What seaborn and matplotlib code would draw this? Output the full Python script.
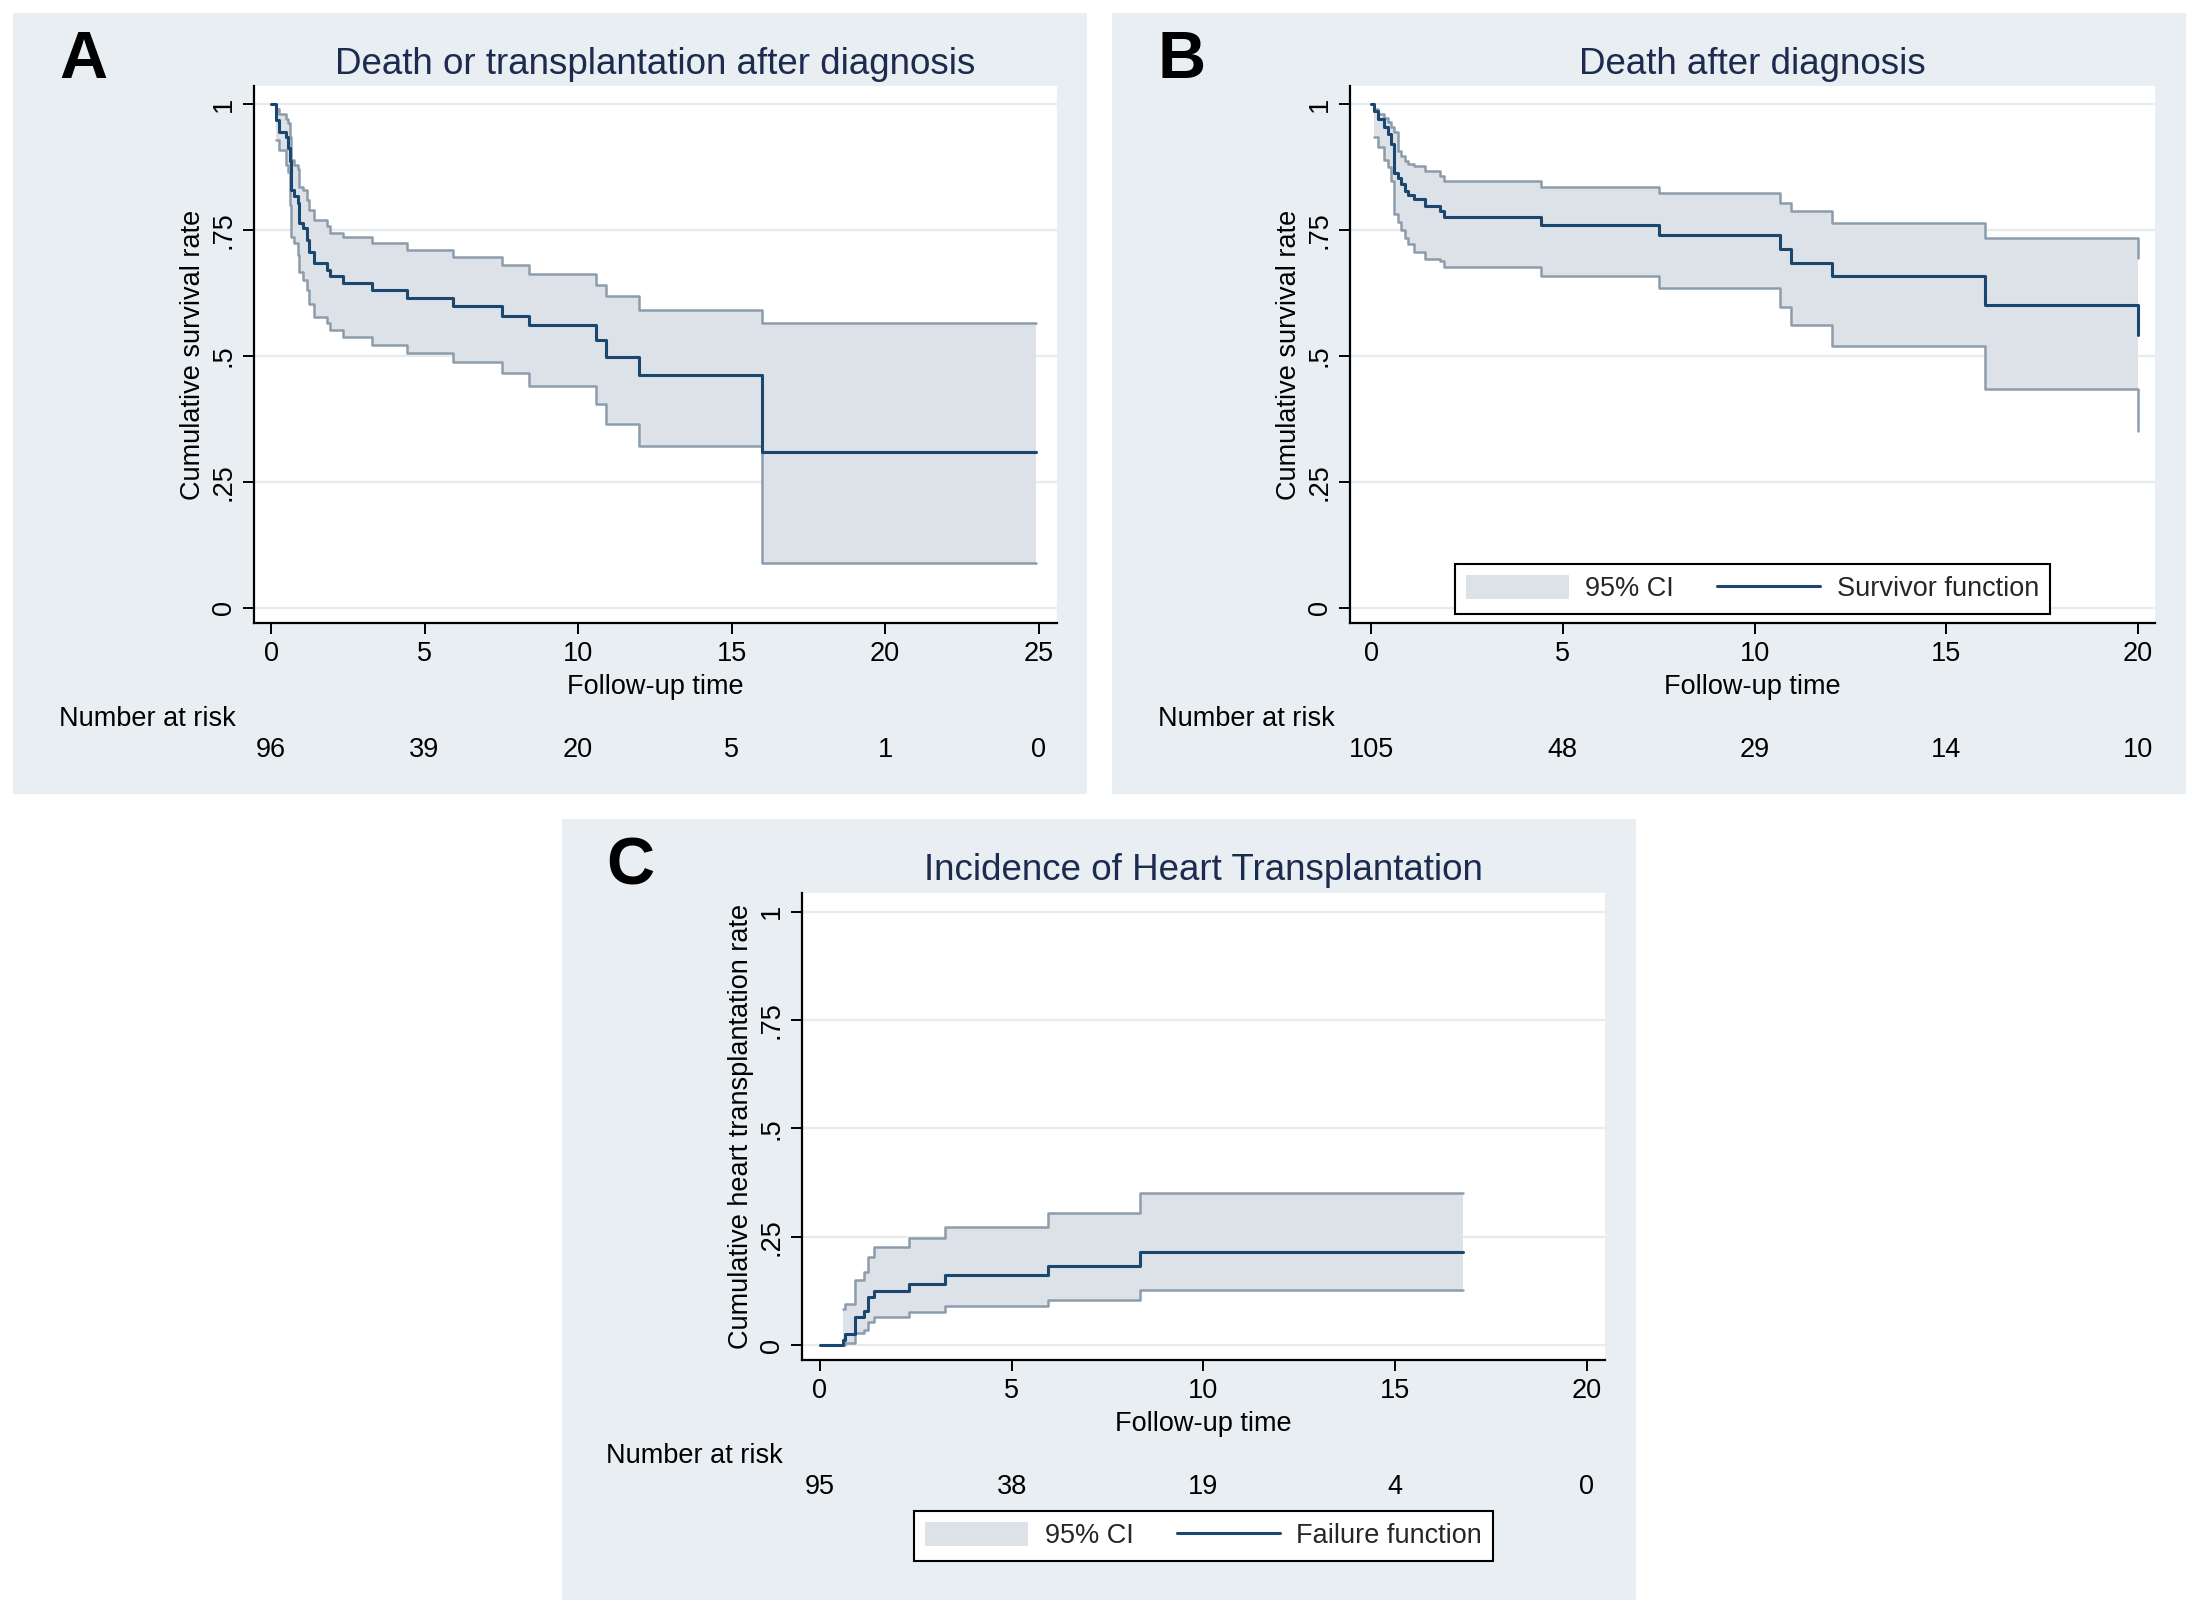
import numpy as np
import pandas as pd
import matplotlib
matplotlib.use('Agg')
import matplotlib.pyplot as plt
import seaborn as sns
from matplotlib.patches import Rectangle, Patch
from matplotlib.lines import Line2D
from matplotlib.transforms import offset_copy

# Panel A - death or transplantation after diagnosis (Kaplan-Meier)
time_a = [0, 0.15, 0.26, 0.48, 0.56, 0.62, 0.65, 0.76, 0.87, 0.92, 1.05, 1.16, 1.25,
          1.41, 1.81, 1.92, 2.36, 3.28, 4.42, 5.94, 7.51, 8.4, 10.6, 10.9, 12.0, 16.0, 24.9]
surv_a = [1, 0.968, 0.945, 0.935, 0.912, 0.886, 0.829, 0.817, 0.803, 0.763, 0.753, 0.730, 0.707,
          0.684, 0.671, 0.659, 0.645, 0.631, 0.616, 0.600, 0.580, 0.562, 0.531, 0.498, 0.463, 0.309, 0.309]
hi_a = [0.99, 0.98, 0.970, 0.962, 0.935, 0.889, 0.879, 0.872, 0.836, 0.829, 0.810, 0.790,
        0.770, 0.757, 0.745, 0.737, 0.724, 0.710, 0.697, 0.681, 0.663, 0.641, 0.620, 0.592, 0.566, 0.566]
lo_a = [0.929, 0.909, 0.879, 0.866, 0.800, 0.737, 0.724, 0.700, 0.667, 0.651, 0.631, 0.604,
        0.578, 0.565, 0.552, 0.538, 0.522, 0.505, 0.489, 0.466, 0.441, 0.405, 0.365, 0.322, 0.089, 0.089]
risk_a = [96, 39, 20, 5, 1, 0]
risk_ticks_a = [0, 5, 10, 15, 20, 25]

# Panel B - death after diagnosis
time_b = [0, 0.09, 0.17, 0.35, 0.43, 0.52, 0.61, 0.70, 0.78, 0.89, 0.97, 1.13, 1.41,
          1.80, 1.89, 4.43, 7.51, 10.67, 10.94, 12.01, 16.0, 20.0]
surv_b = [1, 0.987, 0.970, 0.954, 0.940, 0.921, 0.864, 0.853, 0.841, 0.828, 0.820, 0.811, 0.798,
          0.788, 0.775, 0.760, 0.740, 0.713, 0.685, 0.658, 0.602, 0.541]
hi_b = [0.99, 0.980, 0.973, 0.964, 0.954, 0.944, 0.907, 0.897, 0.886, 0.880, 0.876, 0.868,
        0.858, 0.848, 0.835, 0.823, 0.803, 0.787, 0.763, 0.735, 0.695]
lo_b = [0.934, 0.914, 0.888, 0.874, 0.848, 0.782, 0.765, 0.749, 0.735, 0.722, 0.706, 0.692,
        0.689, 0.677, 0.659, 0.634, 0.597, 0.561, 0.520, 0.435, 0.352]
risk_b = [105, 48, 29, 14, 10]
risk_ticks_b = [0, 5, 10, 15, 20]

# Panel C - incidence of heart transplantation (failure function)
time_c = [0, 0.59, 0.65, 0.91, 1.15, 1.24, 1.41, 2.33, 3.26, 5.95, 8.35, 16.78]
fail_c = [0, 0.0115, 0.025, 0.065, 0.079, 0.110, 0.125, 0.141, 0.161, 0.182, 0.215, 0.215]
hi_c = [0.083, 0.095, 0.150, 0.169, 0.204, 0.225, 0.248, 0.272, 0.304, 0.351, 0.351]
lo_c = [0.001, 0.005, 0.027, 0.035, 0.054, 0.065, 0.077, 0.091, 0.105, 0.127, 0.127]
risk_c = [95, 38, 19, 4, 0]
risk_ticks_c = [0, 5, 10, 15, 20]

y_ticks = [0, 0.25, 0.5, 0.75, 1]
y_ticklabels = ['0', '.25', '.5', '.75', '1']

W, H = 2198, 1612
BG = '#E8EEF1'
NAVY = '#1A476F'
BAND = '#DDE1E8'
BAND_EDGE = '#8C9CAB'
GRID = '#E6ECEE'
TITLE_C = '#1C2B4E'
FS = 19.5

sns.set_theme(style='white')
plt.rcParams['font.family'] = ['Liberation Sans', 'DejaVu Sans']


def fx(x):
    return x / W


def fy(y):
    return 1 - y / H


def km_panel(fig, box, xlim, ylim, t, s, lo, hi, risk, risk_ticks, title, letter,
             panel_top, risk_label_x, ylabel):
    x0, y0, x1, y1 = box
    ax = fig.add_axes([fx(x0), fy(y1), (x1 - x0) / W, (y1 - y0) / H])
    ax.set_facecolor('white')

    # confidence band
    ax.fill_between(t[1:], lo, hi, step='post', color=BAND, lw=0, zorder=1)
    band = pd.DataFrame({'t': t[1:], 'lo': lo, 'hi': hi})
    sns.lineplot(data=band, x='t', y='lo', drawstyle='steps-post', estimator=None, sort=False,
                 color=BAND_EDGE, lw=1.8, ax=ax, zorder=2)
    sns.lineplot(data=band, x='t', y='hi', drawstyle='steps-post', estimator=None, sort=False,
                 color=BAND_EDGE, lw=1.8, ax=ax, zorder=2)
    curve = pd.DataFrame({'t': t, 's': s})
    sns.lineplot(data=curve, x='t', y='s', drawstyle='steps-post', estimator=None, sort=False,
                 color=NAVY, lw=2.2, ax=ax, zorder=3)

    ax.set_xlim(*xlim)
    ax.set_ylim(*ylim)
    ax.set_xticks(risk_ticks)
    ax.set_xticklabels([str(v) for v in risk_ticks])
    ax.set_yticks(y_ticks)
    ax.set_yticklabels(y_ticklabels, rotation=90, va='center')
    ax.set_xlabel('')
    ax.set_ylabel('')
    for sp in ['top', 'right']:
        ax.spines[sp].set_visible(False)
    for sp in ['left', 'bottom']:
        ax.spines[sp].set_color('black')
        ax.spines[sp].set_linewidth(1.6)
    ax.tick_params(axis='both', which='major', length=8, width=1.4, color='black',
                   labelsize=FS, labelcolor='black', left=True, bottom=True)
    ax.tick_params(axis='x', pad=5.2)
    ax.tick_params(axis='y', pad=4.6)
    ax.yaxis.grid(True, color=GRID, lw=1.6)
    ax.xaxis.grid(False)
    ax.set_axisbelow(True)

    cx = (x0 + x1) / 2
    fig.text(fx(cx), fy(panel_top + 61.5), title, ha='center', va='baseline',
             fontsize=26.5, color=TITLE_C)
    fig.text(fx(risk_label_x), fy(panel_top + 65.5), letter, ha='left', va='baseline',
             fontsize=48, fontweight='bold', color='black')
    fig.text(fx(x0 - 61), fy((y0 + y1) / 2), ylabel, rotation=90, ha='center', va='center',
             fontsize=FS, color='black')
    fig.text(fx(cx), fy(y1 + 64), 'Follow-up time', ha='center', va='center',
             fontsize=FS, color='black')
    fig.text(fx(risk_label_x), fy(y1 + 96), 'Number at risk', ha='left', va='center',
             fontsize=FS, color='black')
    trans = offset_copy(ax.get_xaxis_transform(), fig=fig, x=0, y=-127, units='dots')
    for xv, n in zip(risk_ticks, risk):
        ax.text(xv, 0, str(n), transform=trans, ha='center', va='center',
                fontsize=FS, color='black', clip_on=False)
    return ax


def add_legend(ax, label, anchor):
    handles = [Patch(facecolor=BAND, edgecolor='none', label='95% CI'),
               Line2D([0], [0], color=NAVY, lw=2.2, label=label)]
    leg = ax.legend(handles=handles, loc='lower center', bbox_to_anchor=anchor, ncol=2,
                    fontsize=FS, frameon=True, fancybox=False, edgecolor='black',
                    framealpha=1, handlelength=3.8, handleheight=1.0, handletextpad=0.6,
                    columnspacing=1.6, borderpad=0.42, borderaxespad=0)
    leg.get_frame().set_linewidth(1.5)
    return leg


fig = plt.figure(figsize=(W / 100, H / 100), dpi=100)
fig.patch.set_facecolor('white')

for (px0, py0, px1, py1) in [(12.6, 12.6, 1086.6, 793.5), (1111.8, 12.6, 2185.7, 793.5),
                             (562, 818.8, 1636, 1599.7)]:
    fig.patches.append(Rectangle((fx(px0), fy(py1)), (px1 - px0) / W, (py1 - py0) / H,
                                 transform=fig.transFigure, facecolor=BG, edgecolor='none',
                                 zorder=-10))

ax_a = km_panel(fig, (254, 86, 1057, 623), (-0.554, 25.6), (-0.0298, 1.0357),
                time_a, surv_a, lo_a, hi_a, risk_a, risk_ticks_a,
                'Death or transplantation after diagnosis', 'A', 12.6, 59,
                'Cumulative survival rate')

ax_b = km_panel(fig, (1350, 86, 2155, 623), (-0.548, 20.44), (-0.0298, 1.0357),
                time_b, surv_b, lo_b, hi_b, risk_b, risk_ticks_b,
                'Death after diagnosis', 'B', 12.6, 1158,
                'Cumulative survival rate')
add_legend(ax_b, 'Survivor function', (0.5, 0.017))

ax_c = km_panel(fig, (802, 893, 1605, 1360), (-0.469, 20.47), (-0.0346, 1.043),
                time_c, fail_c, lo_c, hi_c, risk_c, risk_ticks_c,
                'Incidence of Heart Transplantation', 'C', 818.8, 606,
                'Cumulative heart transplantation rate')
add_legend(ax_c, 'Failure function', (0.5, -0.43))

fig.savefig('out.png', dpi=100, facecolor='white')
